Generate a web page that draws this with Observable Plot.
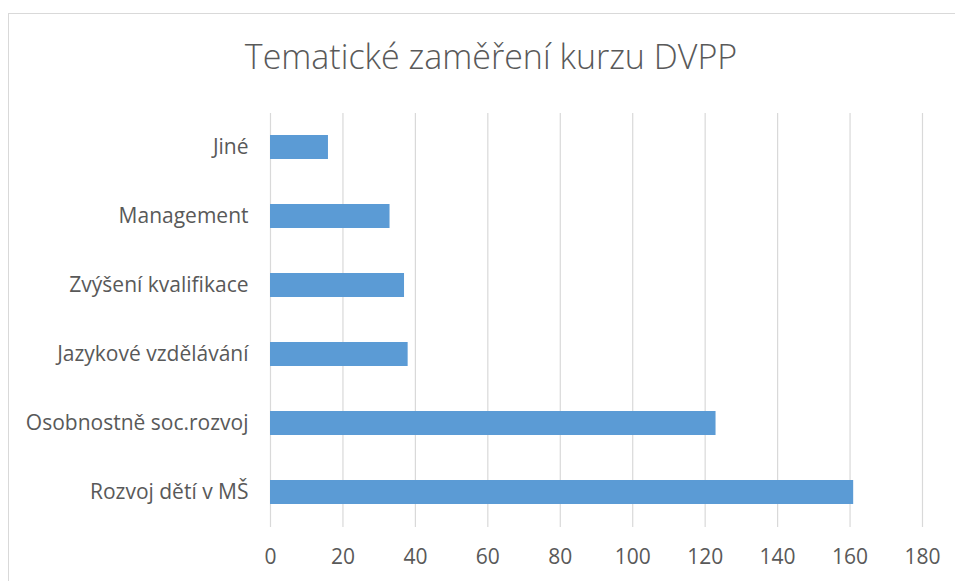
<!DOCTYPE html>
<html>
<head>
<meta charset="utf-8">
<script src="https://cdn.jsdelivr.net/npm/d3@7"></script>
<script src="https://cdn.jsdelivr.net/npm/@observablehq/plot@0.6"></script>
<style>
  html, body { margin: 0; padding: 0; background: #fff; }
  body { width: 955px; height: 581px; overflow: hidden; position: relative; font-family: "Open Sans", sans-serif; }
  #frame { position: absolute; left: 8px; top: 13px; width: 972px; height: 620px; border: 1px solid #D9D9D9; box-sizing: border-box; }
  #title { position: absolute; left: 8px; width: 966px; top: 33px; text-align: center; font-size: 34px; line-height: normal; font-weight: 300; color: #595959; white-space: nowrap; }
  #chart { position: absolute; left: 0; top: 0; }
</style>
</head>
<body>
<div id="frame"></div>
<div id="title">Tematické zaměření kurzu DVPP</div>
<div id="chart"></div>
<script>
const categories = ["Jiné", "Management", "Zvýšení kvalifikace", "Jazykové vzdělávání", "Osobnostně soc.rozvoj", "Rozvoj dětí v MŠ"];
const values = [16, 33, 37, 38, 123, 161];
const xTicks = [0, 20, 40, 60, 80, 100, 120, 140, 160, 180];

const data = categories.map((c, i) => ({category: c, value: values[i]}));

const plot = Plot.plot({
  width: 955,
  height: 581,
  marginLeft: 270,
  marginRight: 33,
  marginTop: 113,
  marginBottom: 54,
  style: {fontFamily: "'Open Sans', sans-serif", fontSize: "21px", color: "#595959", background: "transparent", overflow: "visible"},
  x: {domain: [0, 180], ticks: xTicks, label: null},
  y: {domain: categories, paddingInner: 0.65, paddingOuter: 0.325, label: null},
  marks: [
    Plot.gridX(xTicks, {stroke: "#D9D9D9", strokeOpacity: 1, strokeWidth: 1.2}),
    Plot.barX(data, {x: "value", y: "category", fill: "#5B9BD5"}),
    Plot.axisX(xTicks, {tickSize: 0, tickPadding: 22, fontSize: 21, fill: "#595959", label: null}),
    Plot.axisY({tickSize: 0, tickPadding: 22, fontSize: 21, fill: "#595959", label: null})
  ]
});
document.getElementById("chart").appendChild(plot);
</script>
</body>
</html>
